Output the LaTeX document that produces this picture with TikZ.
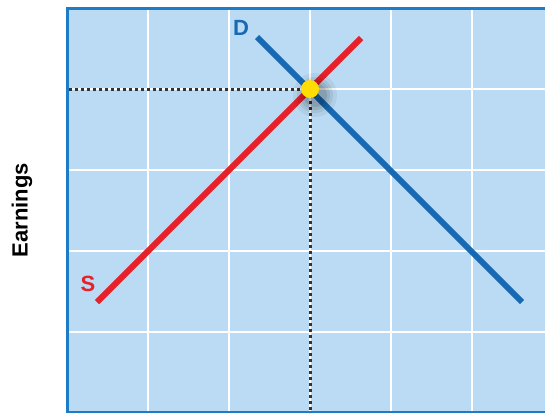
\documentclass[tikz,border=0pt]{standalone}
\usepackage{fontspec}
\setmainfont{Liberation Sans}
\definecolor{plotfill}{HTML}{BADBF3}
\definecolor{frameblue}{HTML}{1E7CC6}
\definecolor{demandblue}{HTML}{1769B4}
\definecolor{supplyred}{HTML}{E8202A}
\definecolor{dotyellow}{HTML}{FFDD00}
\definecolor{dotgray}{HTML}{333333}
\begin{document}
\begin{tikzpicture}[x=1pt,y=-1pt,
  gridline/.style={white,line width=2.8pt},
  frameline/.style={frameblue,line width=3pt},
  curveline/.style={line width=6pt},
  guide/.style={dotgray,line width=3pt,dash pattern=on 3pt off 3pt},
  curvelabel/.style={font=\bfseries\fontsize{22}{22}\selectfont,inner sep=0pt},
  axislabel/.style={font=\bfseries\fontsize{22}{22}\selectfont,inner sep=0pt,rotate=90}
]
\useasboundingbox (0,0) rectangle (545,413);
% plot area
\fill[plotfill] (67,8) rectangle (545,413);
\foreach \gx in {148,229,310,391,472} \draw[gridline] (\gx,8) -- (\gx,413);
\foreach \gy in {89,170,251,332} \draw[gridline] (67,\gy) -- (545,\gy);
% frame
\draw[frameline] (66,8.5) -- (545,8.5);
\draw[frameline] (67.5,7) -- (67.5,413);
\draw[frameblue,line width=2pt] (66,412) -- (545,412);
% equilibrium
\coordinate (eqc) at (310,89);
\coordinate (yaxis) at (69,89);
\coordinate (xaxis) at (310,413);
\draw[guide] (yaxis) -- (eqc);
\draw[guide] (eqc) -- (xaxis);
% supply and demand
\coordinate (s0) at (97,302);
\coordinate (s1) at (361,38);
\coordinate (d0) at (257,37);
\coordinate (d1) at (522,302);
\draw[curveline,supplyred] (s0) -- (s1);
\draw[curveline,demandblue] (d0) -- (d1);
% shadow of dot
\foreach \r/\o in {22/0.05,18/0.07,15/0.08,12/0.1} \fill[black,opacity=\o] (315,95) circle (\r);
\node[circle,fill=dotyellow,inner sep=0pt,minimum size=18pt] (eq) at (eqc) {};
% labels
\node[curvelabel,text=demandblue] (dlab) at (241,28) {D};
\node[curvelabel,text=supplyred] (slab) at (88,284) {S};
\node[axislabel] (earn) at (22,210) {Earnings};
\end{tikzpicture}
\end{document}
